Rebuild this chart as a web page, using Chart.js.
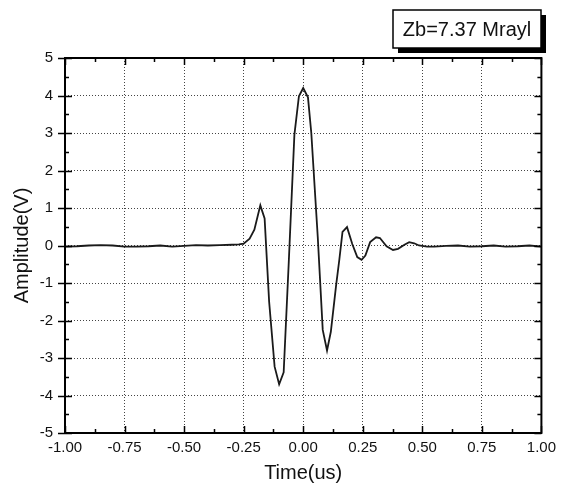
<!DOCTYPE html>
<html>
<head>
<meta charset="utf-8">
<script src="https://cdn.jsdelivr.net/npm/chart.js@4.4.1/dist/chart.umd.min.js"></script>
<style>
  body { margin: 0; background: #fff; }
  #wrap { width: 562px; height: 487px; position: relative; }
</style>
</head>
<body>
<div id="wrap"><canvas id="waveChart"></canvas></div>
<script>
// time axis (us) and measured amplitude (V)
const times = [-1.00, -0.95, -0.90, -0.85, -0.80, -0.75, -0.70, -0.65, -0.60, -0.55,
    -0.50, -0.45, -0.40, -0.35, -0.30, -0.27, -0.25, -0.225, -0.205, -0.18,
    -0.162, -0.143, -0.12, -0.101, -0.082, -0.061, -0.037, -0.018, 0.0, 0.02,
    0.034, 0.061, 0.082, 0.1, 0.116, 0.138, 0.152, 0.165, 0.184, 0.206,
    0.227, 0.245, 0.261, 0.281, 0.306, 0.322, 0.35, 0.377, 0.398, 0.425,
    0.445, 0.466, 0.486, 0.52, 0.55, 0.60, 0.65, 0.70, 0.75, 0.80,
    0.85, 0.90, 0.95, 1.00];
const amplitude = [-0.03, -0.02, 0.0, 0.01, 0.0, -0.03, -0.03, -0.02, 0.0, -0.03,
    -0.01, 0.01, 0.0, 0.01, 0.02, 0.03, 0.05, 0.18, 0.42, 1.07,
    0.72, -1.5, -3.23, -3.7, -3.38, -0.5, 2.95, 3.98, 4.2, 3.95,
    3.0, 0.24, -2.25, -2.8, -2.3, -1.07, -0.36, 0.36, 0.49, 0.04,
    -0.31, -0.38, -0.27, 0.09, 0.22, 0.2, -0.02, -0.12, -0.09, 0.02,
    0.09, 0.06, 0.0, -0.03, -0.03, -0.01, 0.0, -0.03, -0.02, 0.0,
    -0.03, -0.02, 0.0, -0.03];
const legendText = 'Zb=7.37 Mrayl';
const xTitle = 'Time(us)';
const yTitle = 'Amplitude(V)';

const points = times.map((t, i) => ({ x: t, y: amplitude[i] }));

// frame, inward ticks on all four sides, and the boxed label
const framePlugin = {
    id: 'frame',
    afterDraw(chart) {
        const ctx = chart.ctx;
        const { left, right, top, bottom } = chart.chartArea;
        const xs = chart.scales.x, ys = chart.scales.y;
        ctx.save();
        ctx.strokeStyle = '#000';
        ctx.lineWidth = 1.5;
        ctx.beginPath();
        for (let v = -1; v <= 1.0001; v += 0.125) {
            const px = Math.round(xs.getPixelForValue(v)) + 0.5;
            const len = Math.abs(v * 4 - Math.round(v * 4)) < 1e-6 ? 7 : 4;
            ctx.moveTo(px, bottom); ctx.lineTo(px, bottom - len);
            ctx.moveTo(px, top); ctx.lineTo(px, top + len);
        }
        for (let v = -5; v <= 5.0001; v += 0.5) {
            const py = Math.round(ys.getPixelForValue(v)) + 0.5;
            const major = Math.abs(v - Math.round(v)) < 1e-6;
            const len = major ? 7 : 4;
            ctx.moveTo(left, py); ctx.lineTo(left + len, py);
            ctx.moveTo(right, py); ctx.lineTo(right - len, py);
            if (major) { ctx.moveTo(left - 7, py); ctx.lineTo(left, py); }
        }
        ctx.stroke();
        ctx.lineWidth = 2;
        ctx.strokeRect(left, top, right - left, bottom - top);

        // label box with drop shadow
        const bx = 393, by = 10, bw = 148, bh = 38;
        ctx.fillStyle = '#000';
        ctx.fillRect(bx + 5, by + 5, bw, bh);
        ctx.fillStyle = '#fff';
        ctx.fillRect(bx, by, bw, bh);
        ctx.lineWidth = 1.5;
        ctx.strokeRect(bx, by, bw, bh);
        ctx.fillStyle = '#111';
        ctx.font = '20px "Liberation Sans", Arial, sans-serif';
        ctx.textAlign = 'center';
        ctx.textBaseline = 'middle';
        ctx.fillText(legendText, bx + bw / 2, by + bh / 2 + 1);
        ctx.restore();
    }
};

const tickFont = { family: '"Liberation Sans", Arial, sans-serif', size: 15 };
const titleFont = { family: '"Liberation Sans", Arial, sans-serif', size: 20 };

new Chart(document.getElementById('waveChart').getContext('2d'), {
    type: 'line',
    data: {
        datasets: [{
            data: points,
            borderColor: '#1a1a1a',
            borderWidth: 1.8,
            pointRadius: 0,
            tension: 0,
            fill: false
        }]
    },
    options: {
        responsive: true,
        maintainAspectRatio: false,
        animation: false,
        layout: { padding: { top: 58, right: 15, left: 0, bottom: 0 } },
        plugins: {
            legend: { display: false },
            tooltip: { enabled: false }
        },
        scales: {
            x: {
                type: 'linear',
                min: -1,
                max: 1,
                afterFit(scale) { scale.height = 54; },
                ticks: {
                    stepSize: 0.25,
                    padding: 6,
                    color: '#111',
                    font: tickFont,
                    maxRotation: 0,
                    callback: v => v.toFixed(2)
                },
                grid: { color: '#444', lineWidth: 1, drawTicks: false },
                border: { display: false, dash: [1, 2] },
                title: { display: true, text: xTitle, color: '#111', font: titleFont, padding: { top: 0, bottom: 2 } }
            },
            y: {
                min: -5,
                max: 5,
                afterFit(scale) { scale.width = 65; },
                ticks: {
                    stepSize: 1,
                    padding: 12,
                    color: '#111',
                    font: tickFont
                },
                grid: { color: '#444', lineWidth: 1, drawTicks: false },
                border: { display: false, dash: [1, 2] },
                title: { display: true, text: yTitle, color: '#111', font: titleFont, padding: { top: 10, bottom: 0 } }
            }
        }
    },
    plugins: [framePlugin]
});
</script>
</body>
</html>
